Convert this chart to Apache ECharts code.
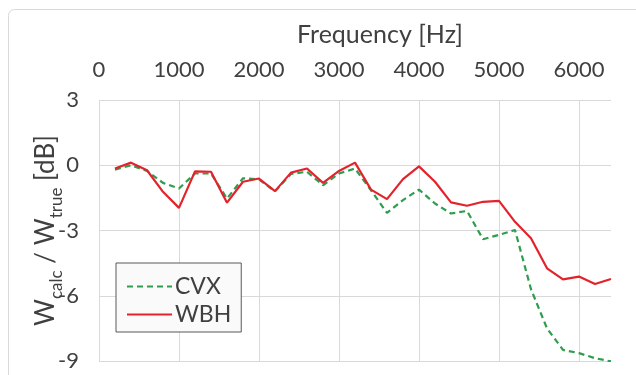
<!DOCTYPE html>
<html>
<head>
<meta charset="utf-8">
<script src="https://cdn.jsdelivr.net/npm/echarts@6/dist/echarts.min.js"></script>
<style>
  html, body { margin: 0; padding: 0; background: #ffffff; }
  #chart { width: 636px; height: 375px; }
</style>
</head>
<body>
<div id="chart"></div>
<script>
// Frequency samples (Hz)
const frequency = [200, 400, 600, 800, 1000, 1200, 1400, 1600, 1800, 2000, 2200, 2400, 2600, 2800, 3000,
                   3200, 3400, 3600, 3800, 4000, 4200, 4400, 4600, 4800, 5000, 5200, 5400, 5600, 5800, 6000, 6200, 6400];

// Power ratio W_calc / W_true in dB
const cvx = [-0.2, 0.0, -0.26, -0.81, -1.07, -0.38, -0.38, -1.53, -0.6, -0.65, -1.2, -0.4, -0.3, -0.92, -0.38,
             -0.15, -1.15, -2.19, -1.6, -1.12, -1.76, -2.22, -2.1, -3.4, -3.2, -2.98, -5.7, -7.5, -8.49, -8.64, -8.87, -9.02];
const wbh = [-0.15, 0.12, -0.23, -1.22, -1.96, -0.28, -0.3, -1.72, -0.76, -0.61, -1.19, -0.34, -0.15, -0.81, -0.26,
             0.12, -1.12, -1.56, -0.64, -0.05, -0.76, -1.71, -1.86, -1.68, -1.64, -2.6, -3.36, -4.74, -5.25, -5.12, -5.46, -5.23];

const seriesNames = ['CVX', 'WBH'];
const yTicks = [-9, -6, -3, 0, 3];

const font = 'Lato, "Open Sans", sans-serif';
const textColor = '#404040';
const gridColor = '#d9d9d9';

const chart = echarts.init(document.getElementById('chart'));
chart.setOption({
  animation: false,
  backgroundColor: '#ffffff',
  graphic: [
    {
      type: 'rect',
      shape: { x: 8.5, y: 9.5, width: 640, height: 400, r: 6 },
      style: { fill: 'none', stroke: gridColor, lineWidth: 1 },
      silent: true
    },
    {
      // x-axis title, centred over the chart area
      type: 'text',
      left: 297, top: 22,
      style: { text: 'Frequency [Hz]', font: '25px ' + font, fill: textColor },
      silent: true
    }
  ],
  grid: { left: 99, top: 100, width: 512, height: 261 },
  legend: {
    orient: 'vertical',
    left: 116, top: 263,
    padding: [12, 10, 6, 10],
    itemGap: 5,
    itemWidth: 45,
    itemHeight: 14,
    backgroundColor: '#fafafa',
    borderColor: '#595959',
    borderWidth: 1,
    itemStyle: { opacity: 0 },
    textStyle: { fontFamily: font, fontSize: 23, color: textColor, padding: [0, 0, 0, -2] },
    data: seriesNames
  },
  xAxis: {
    type: 'value',
    position: 'top',
    min: 0, max: 6400, interval: 1000,
    axisLine: { show: false },
    axisTick: { show: false },
    axisLabel: {
      fontFamily: font, fontSize: 22, color: textColor, margin: 19, showMaxLabel: false,
      formatter: v => String(v)
    },
    splitLine: { show: true, showMaxLine: false, lineStyle: { color: gridColor, width: 1 } }
  },
  yAxis: {
    type: 'value',
    min: yTicks[0], max: yTicks[yTicks.length - 1], interval: 3,
    name: '{a|W}{s|calc}{a| / W}{s|true}{a| [dB]}',
    nameLocation: 'middle',
    nameGap: 40,
    nameMoveOverlap: false,
    nameRotate: 90,
    nameTextStyle: {
      fontFamily: font, color: textColor,
      rich: {
        a: { fontFamily: font, fontSize: 26, color: textColor, lineHeight: 32, verticalAlign: 'bottom' },
        s: { fontFamily: font, fontSize: 17, color: textColor, lineHeight: 32, verticalAlign: 'bottom', padding: [0, 0, -6, 0] }
      }
    },
    axisLine: { show: false },
    axisTick: { show: false },
    axisLabel: { fontFamily: font, fontSize: 22, color: textColor, margin: 20 },
    splitLine: { show: true, lineStyle: { color: gridColor, width: 1 } }
  },
  series: [
    {
      name: seriesNames[0],
      type: 'line',
      symbol: 'none',
      data: frequency.map((f, i) => [f, cvx[i]]),
      lineStyle: { color: '#2e9d4e', width: 2.2, type: [6, 4] },
      itemStyle: { color: '#2e9d4e' },
      z: 2
    },
    {
      name: seriesNames[1],
      type: 'line',
      symbol: 'none',
      data: frequency.map((f, i) => [f, wbh[i]]),
      lineStyle: { color: '#e3232c', width: 2.2 },
      itemStyle: { color: '#e3232c' },
      z: 3
    }
  ]
});
</script>
</body>
</html>
